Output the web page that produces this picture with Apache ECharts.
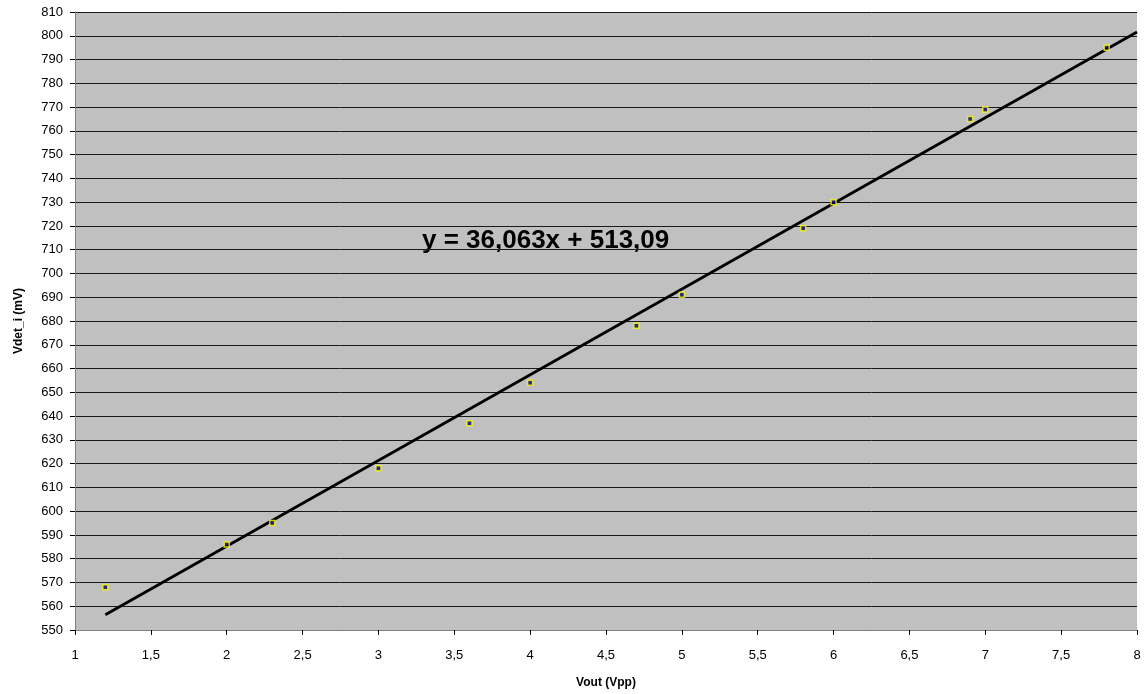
<!DOCTYPE html>
<html><head><meta charset="utf-8">
<script src="https://cdn.jsdelivr.net/npm/echarts@6/dist/echarts.min.js"></script>
<style>html,body{margin:0;padding:0;background:#fff}#c{width:1144px;height:694px}</style>
</head><body><div id="c"></div>
<script>
const xValues = [1.2, 2.0, 2.3, 3.0, 3.6, 4.0, 4.7, 5.0, 5.8, 6.0, 6.9, 7.0, 7.8];
const yValues = [568, 586, 595, 618, 637, 654, 678, 691, 719, 730, 765, 769, 795];
const trendX = [1.2, 8];
const trendY = [556.4, 801.6];
const equationText = 'y = 36,063x + 513,09';
const xTitle = 'Vout (Vpp)';
const yTitle = 'Vdet_i (mV)';

const font = '"Liberation Sans", Arial, sans-serif';
const chart = echarts.init(document.getElementById('c'));
chart.setOption({
  animation: false,
  backgroundColor: '#fff',
  grid: { left: 75, right: 7, top: 12, bottom: 62, backgroundColor: '#C0C0C0', show: true, borderWidth: 0 },
  xAxis: {
    type: 'value', min: 1, max: 8, interval: 0.5,
    axisLine: { onZero: false, lineStyle: { color: '#808080', width: 1 } },
    axisTick: { show: true, length: 5, lineStyle: { color: '#000' } },
    splitLine: { show: false },
    axisLabel: { color: '#000', fontSize: 13, fontFamily: font, margin: 19,
      formatter: v => String(v).replace('.', ',') },
    name: xTitle, nameLocation: 'middle', nameGap: 47,
    nameTextStyle: { color: '#000', fontSize: 12, fontWeight: 'bold', fontFamily: font }
  },
  yAxis: {
    type: 'value', min: 550, max: 810, interval: 10,
    axisLine: { show: true, onZero: false, lineStyle: { color: '#808080', width: 1 } },
    axisTick: { show: true, length: 5, lineStyle: { color: '#000' } },
    splitLine: { show: true, lineStyle: { color: '#1a1a1a', width: 1 } },
    axisLabel: { color: '#000', fontSize: 13, fontFamily: font, margin: 12 },
    name: yTitle, nameLocation: 'middle', nameGap: 50,
    nameTextStyle: { color: '#000', fontSize: 12, fontWeight: 'bold', fontFamily: font }
  },
  series: [
    {
      type: 'line', data: trendX.map((x, i) => [x, trendY[i]]),
      showSymbol: false, symbol: 'none', lineStyle: { color: '#000', width: 2.8 }, z: 2
    },
    {
      type: 'scatter', data: xValues.map((x, i) => [x, yValues[i]]),
      symbol: 'rect', symbolSize: 5,
      itemStyle: { color: '#000080', borderColor: '#FFFF00', borderWidth: 1.5 }, z: 3
    }
  ],
  graphic: [{
    type: 'text', x: 422, y: 241,
    style: { text: equationText, fill: '#000', font: 'bold 26px ' + font, verticalAlign: 'middle', align: 'left' }
  }]
});
</script></body></html>
